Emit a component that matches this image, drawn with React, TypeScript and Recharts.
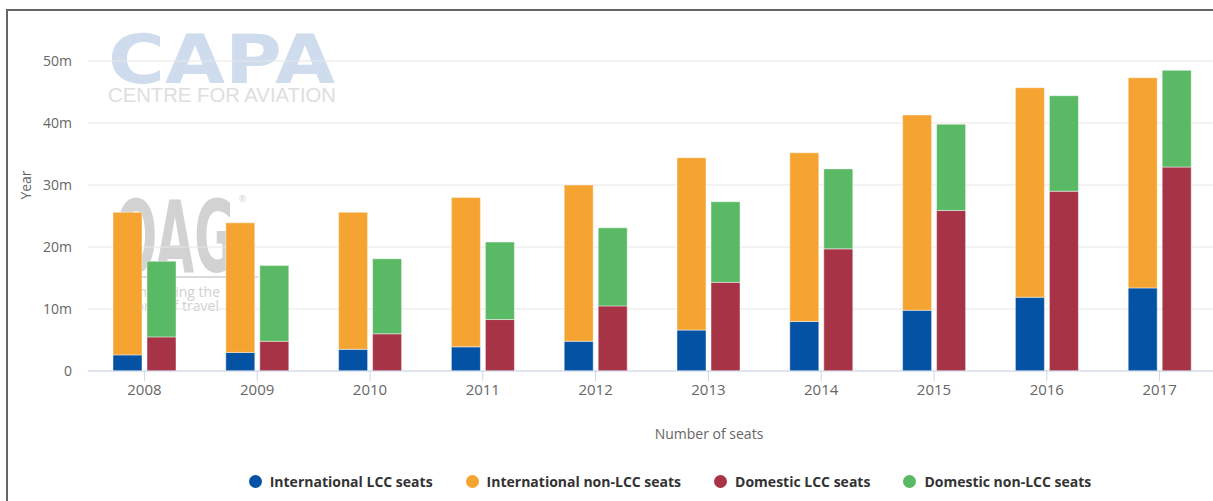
import React from 'react';
import { BarChart, Bar, XAxis, YAxis, CartesianGrid, Legend, Label } from 'recharts';

const years = ['2008', '2009', '2010', '2011', '2012', '2013', '2014', '2015', '2016', '2017'];
const intlLcc = [2.6, 3.0, 3.5, 3.9, 4.8, 6.6, 8.0, 9.8, 11.9, 13.4];
const intlNonLcc = [23.0, 20.9, 22.1, 24.1, 25.2, 27.8, 27.2, 31.5, 33.8, 33.9];
const domLcc = [5.5, 4.8, 6.0, 8.3, 10.5, 14.3, 19.7, 25.9, 29.0, 32.9];
const domNonLcc = [12.2, 12.2, 12.1, 12.5, 12.6, 13.0, 12.9, 13.9, 15.4, 15.6];

const seriesNames = [
  'International LCC seats',
  'International non-LCC seats',
  'Domestic LCC seats',
  'Domestic non-LCC seats',
];
const seriesColors = ['#0452a4', '#f5a431', '#a63346', '#59b964'];
const yTicks = [0, 10, 20, 30, 40, 50];
const xAxisTitle = 'Number of seats';
const yAxisTitle = 'Year';

const data = years.map((year, i) => ({
  year,
  intlLcc: intlLcc[i],
  intlNonLcc: intlNonLcc[i],
  domLcc: domLcc[i],
  domNonLcc: domNonLcc[i],
}));

const FONT = '"Open Sans", sans-serif';

function LegendContent(props: any) {
  const payload = [...(props.payload || [])].sort(
    (a: any, b: any) => seriesNames.indexOf(a.value) - seriesNames.indexOf(b.value)
  );
  return (
    <div
      style={{
        display: 'flex',
        justifyContent: 'center',
        fontFamily: FONT,
        fontSize: 14,
        fontWeight: 700,
        color: '#333',
      }}
    >
      {payload.map((p: any, i: number) => (
        <div
          key={i}
          style={{ display: 'flex', alignItems: 'center', marginRight: i < payload.length - 1 ? 33 : 0 }}
        >
          <span
            style={{ display: 'inline-block', width: 13, height: 13, borderRadius: 7, background: p.color, marginRight: 8 }}
          />
          <span>{p.value}</span>
        </div>
      ))}
    </div>
  );
}

function Watermark() {
  return (
    <svg width={1213} height={501} style={{ position: 'absolute', left: 0, top: 0 }}>
      <text x={108} y={83} fontFamily="DejaVu Sans" fontWeight={700} fontSize={68} fill="#cfdcee" textLength={227} lengthAdjust="spacingAndGlyphs">CAPA</text>
      <text x={108} y={102} fontFamily="Liberation Sans" fontSize={19.5} fill="#dedede" textLength={228} lengthAdjust="spacingAndGlyphs">CENTRE FOR AVIATION</text>
      <text x={115} y={272} fontFamily="DejaVu Sans" fontWeight={700} fontSize={100} fill="#d2d2d2" textLength={120} lengthAdjust="spacingAndGlyphs">OAG</text>
      <text x={238} y={202} fontFamily="DejaVu Sans" fontSize={9} fill="#d2d2d2">®</text>
      <rect x={140} y={276} width={118} height={2} fill="#dadada" />
      <text x={220} y={297} fontFamily={FONT} fontSize={14} fill="#d0d0d0" textAnchor="end">Connecting the</text>
      <text x={219} y={311} fontFamily={FONT} fontSize={14} fill="#d0d0d0" textAnchor="end">world of travel</text>
    </svg>
  );
}

export default function App() {
  const keys = ['intlLcc', 'intlNonLcc', 'domLcc', 'domNonLcc'];
  const stacks = ['intl', 'intl', 'dom', 'dom'];
  return (
    <div style={{ position: 'absolute', left: 0, top: 0, width: 1213, height: 501, overflow: 'hidden', background: '#fff' }}>
      <Watermark />
      <div style={{ position: 'absolute', left: 0, top: 0 }}>
        <BarChart
          width={1240}
          height={501}
          data={data}
          margin={{ top: 61, right: 24, bottom: 100, left: 0 }}
          barSize={29}
          barGap={5}
        >
          <CartesianGrid vertical={false} stroke="#e6e6e6" />
          <XAxis
            dataKey="year"
            height={30}
            axisLine={{ stroke: '#ccd6eb' }}
            tickLine={{ stroke: '#ccd6eb' }}
            tickSize={10}
            tickMargin={3}
            tick={{ fill: '#666', fontSize: 15, fontFamily: FONT }}
          >
            <Label
              content={(props: any) => {
                const vb = props.viewBox;
                return (
                  <text
                    x={vb.x + vb.width / 2 + 57}
                    y={vb.y + 68}
                    textAnchor="middle"
                    fill="#666"
                    fontSize={14}
                    fontFamily={FONT}
                  >
                    {xAxisTitle}
                  </text>
                );
              }}
            />
          </XAxis>
          <YAxis
            width={88}
            domain={[0, 50]}
            ticks={yTicks}
            interval={0}
            axisLine={false}
            tickLine={false}
            tickSize={8}
            tickMargin={8}
            tick={{ fill: '#666', fontSize: 14, fontFamily: FONT }}
            tickFormatter={(v: number) => (v === 0 ? '0' : `${v}m`)}
          >
            <Label
              content={(props: any) => {
                const vb = props.viewBox;
                const x = vb.x + 25;
                const y = vb.y + 124;
                return (
                  <text
                    x={x}
                    y={y}
                    textAnchor="middle"
                    dominantBaseline="central"
                    transform={`rotate(-90 ${x} ${y})`}
                    fill="#666"
                    fontSize={14}
                    fontFamily={FONT}
                  >
                    {yAxisTitle}
                  </text>
                );
              }}
            />
          </YAxis>
          <Legend
            layout="horizontal"
            verticalAlign="middle"
            content={<LegendContent />}
            wrapperStyle={{ top: 472, left: 0, width: 1340 }}
          />
          {keys.map((k, i) => (
            <Bar
              key={k}
              dataKey={k}
              name={seriesNames[i]}
              stackId={stacks[i]}
              fill={seriesColors[i]}
              stroke="rgba(255,255,255,0.45)"
              strokeWidth={1}
              isAnimationActive={false}
            />
          ))}
        </BarChart>
      </div>
      <div
        style={{
          position: 'absolute',
          left: 6,
          top: 9,
          width: 1220,
          height: 520,
          borderTop: '2px solid #666',
          borderLeft: '2px solid #666',
          pointerEvents: 'none',
        }}
      />
    </div>
  );
}
